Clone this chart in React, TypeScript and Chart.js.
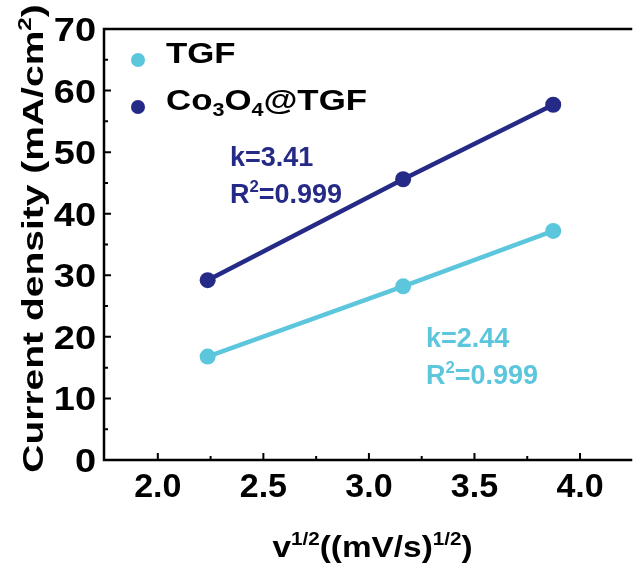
import React, { useEffect, useRef } from "react";
import { Chart, registerables } from "chart.js";

Chart.register(...registerables);

// square root of scan rate, (mV/s)^1/2, for 5, 10 and 15 mV/s
const scanRoots = [2.236, 3.162, 3.873];
// current density, mA/cm²
const tgfDensity = [16.8, 28.2, 37.2];
const co3o4Density = [29.2, 45.6, 57.7];

const xTickValues = [2.0, 2.5, 3.0, 3.5, 4.0];
const xMinorValues = [2.25, 2.75, 3.25, 3.75];
const yTickValues = [0, 10, 20, 30, 40, 50, 60, 70];
const yMinorValues = [5, 15, 25, 35, 45, 55, 65];

const tgfFit = ["k=2.44", "0.999"];
const co3o4Fit = ["k=3.41", "0.999"];

const TGF_COLOR = "#5cc6dc";
const CO_COLOR = "#262a87";
const FONT = "'Liberation Sans', Arial, Helvetica, sans-serif";

type Seg = { t: string; sup?: boolean; sub?: boolean };

function setFont(ctx: CanvasRenderingContext2D, size: number) {
  ctx.font = `bold ${size}px ${FONT}`;
}

function richWidth(ctx: CanvasRenderingContext2D, segs: Seg[], size: number) {
  let w = 0;
  for (const s of segs) {
    setFont(ctx, s.sup || s.sub ? size * 0.62 : size);
    w += ctx.measureText(s.t).width;
  }
  return w;
}

// draws mixed normal / superscript / subscript text starting at (0,0) baseline
function drawRich(ctx: CanvasRenderingContext2D, segs: Seg[], size: number) {
  let x = 0;
  ctx.textAlign = "left";
  ctx.textBaseline = "alphabetic";
  for (const s of segs) {
    const fs = s.sup || s.sub ? size * 0.62 : size;
    setFont(ctx, fs);
    const dy = s.sup ? -size * 0.4 : s.sub ? size * 0.22 : 0;
    ctx.fillText(s.t, x, dy);
    x += ctx.measureText(s.t).width;
  }
}

function placeRich(
  ctx: CanvasRenderingContext2D,
  segs: Seg[],
  x: number,
  y: number,
  size: number,
  color: string,
  stretch = 1,
  align: "left" | "center" | "right" = "left"
) {
  const w = richWidth(ctx, segs, size) * stretch;
  const left = align === "center" ? x - w / 2 : align === "right" ? x - w : x;
  ctx.save();
  ctx.fillStyle = color;
  ctx.translate(left, y);
  ctx.scale(stretch, 1);
  drawRich(ctx, segs, size);
  ctx.restore();
}

const framePlugin = {
  id: "frame",
  afterDraw(chart: any) {
    const ctx: CanvasRenderingContext2D = chart.ctx;
    const { left, right, top, bottom } = chart.chartArea;
    const xs = chart.scales.x;
    const ys = chart.scales.y;
    ctx.save();
    ctx.strokeStyle = "#000";
    ctx.lineWidth = 2.5;
    ctx.lineCap = "square";
    // axis frame: left, bottom, top
    ctx.beginPath();
    ctx.moveTo(left, top);
    ctx.lineTo(right + 2, top);
    ctx.moveTo(left, top);
    ctx.lineTo(left, bottom);
    ctx.lineTo(right + 2, bottom);
    ctx.stroke();

    // inward ticks
    ctx.lineWidth = 2;
    ctx.lineCap = "butt";
    ctx.beginPath();
    for (const v of xTickValues) {
      const px = xs.getPixelForValue(v);
      ctx.moveTo(px, bottom);
      ctx.lineTo(px, bottom - 7);
    }
    for (const v of xMinorValues) {
      const px = xs.getPixelForValue(v);
      ctx.moveTo(px, bottom);
      ctx.lineTo(px, bottom - 4);
    }
    for (const v of yTickValues) {
      const py = ys.getPixelForValue(v);
      ctx.moveTo(left, py);
      ctx.lineTo(left + 7, py);
    }
    for (const v of yMinorValues) {
      const py = ys.getPixelForValue(v);
      ctx.moveTo(left, py);
      ctx.lineTo(left + 4, py);
    }
    ctx.stroke();

    // tick labels
    for (const v of xTickValues) {
      placeRich(ctx, [{ t: v.toFixed(1) }], xs.getPixelForValue(v), bottom + 37, 34, "#000", 1, "center");
    }
    for (const v of yTickValues) {
      placeRich(ctx, [{ t: String(v) }], left - 8, ys.getPixelForValue(v) + 12, 33, "#000", 1.15, "right");
    }

    // axis titles
    placeRich(
      ctx,
      [{ t: "v" }, { t: "1/2", sup: true }, { t: "((mV/s)" }, { t: "1/2", sup: true }, { t: ")" }],
      (left + 637) / 2 + 2,
      557,
      29,
      "#000",
      1.15,
      "center"
    );
    ctx.save();
    ctx.translate(43, (top + bottom) / 2 - 6);
    ctx.rotate(-Math.PI / 2);
    placeRich(
      ctx,
      [{ t: "Current density (mA/cm" }, { t: "2", sup: true }, { t: ")" }],
      0,
      0,
      30,
      "#000",
      1.3,
      "center"
    );
    ctx.restore();

    // legend
    const legend: [string, Seg[], number][] = [
      [TGF_COLOR, [{ t: "TGF" }], 60],
      [CO_COLOR, [{ t: "Co" }, { t: "3", sub: true }, { t: "O" }, { t: "4", sub: true }, { t: "@TGF" }], 107],
    ];
    for (const [color, segs, my] of legend) {
      ctx.fillStyle = color;
      ctx.beginPath();
      ctx.arc(138, my, 7, 0, Math.PI * 2);
      ctx.fill();
      placeRich(ctx, segs, 166, my + 3, 29, "#000", 1.2);
    }

    // fit annotations
    placeRich(ctx, [{ t: co3o4Fit[0] }], 230, 166, 27, CO_COLOR);
    placeRich(ctx, [{ t: "R" }, { t: "2", sup: true }, { t: "=" + co3o4Fit[1] }], 230, 203, 27, CO_COLOR);
    placeRich(ctx, [{ t: tgfFit[0] }], 426, 347, 27, TGF_COLOR);
    placeRich(ctx, [{ t: "R" }, { t: "2", sup: true }, { t: "=" + tgfFit[1] }], 426, 384, 27, TGF_COLOR);

    ctx.restore();
  },
};

export default function App() {
  const canvasRef = useRef<HTMLCanvasElement | null>(null);

  useEffect(() => {
    const canvas = canvasRef.current;
    if (!canvas) return;
    const toPoints = (ys: number[]) => scanRoots.map((x, i) => ({ x, y: ys[i] }));
    const chart = new Chart(canvas, {
      type: "line",
      data: {
        datasets: [
          {
            label: "TGF",
            data: toPoints(tgfDensity),
            borderColor: TGF_COLOR,
            backgroundColor: TGF_COLOR,
            pointBackgroundColor: TGF_COLOR,
            pointBorderWidth: 0,
            pointRadius: 8,
            borderWidth: 4.5,
            tension: 0,
          },
          {
            label: "Co3O4@TGF",
            data: toPoints(co3o4Density),
            borderColor: CO_COLOR,
            backgroundColor: CO_COLOR,
            pointBackgroundColor: CO_COLOR,
            pointBorderWidth: 0,
            pointRadius: 8,
            borderWidth: 4.5,
            tension: 0,
          },
        ],
      },
      options: {
        responsive: false,
        animation: false,
        devicePixelRatio: 1,
        layout: { padding: { top: 29, right: 0, left: 0, bottom: 0 } },
        plugins: { legend: { display: false }, tooltip: { enabled: false } },
        scales: {
          x: {
            type: "linear",
            min: 1.745,
            max: 4.232,
            grid: { display: false },
            border: { display: false },
            ticks: { display: false },
            afterFit: (s: any) => {
              s.height = 105;
            },
          },
          y: {
            type: "linear",
            min: 0,
            max: 70,
            grid: { display: false },
            border: { display: false },
            ticks: { display: false },
            afterFit: (s: any) => {
              s.width = 104;
            },
          },
        },
      },
      plugins: [framePlugin],
    });
    return () => chart.destroy();
  }, []);

  return (
    <div style={{ position: "absolute", left: 0, top: 0, width: 637, height: 565, background: "#fff" }}>
      <canvas ref={canvasRef} width={637} height={565} style={{ display: "block" }} />
    </div>
  );
}
